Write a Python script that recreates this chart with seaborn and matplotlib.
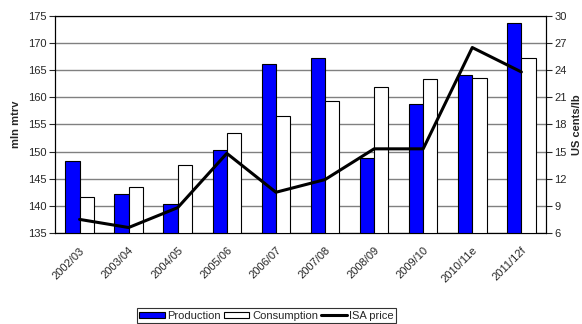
import numpy as np
import pandas as pd
import matplotlib
matplotlib.use("Agg")
import matplotlib.pyplot as plt
import matplotlib.transforms as mtransforms
import seaborn as sns
from matplotlib.patches import Patch
from matplotlib.lines import Line2D

seasons = ["2002/03", "2003/04", "2004/05", "2005/06", "2006/07",
           "2007/08", "2008/09", "2009/10", "2010/11e", "2011/12f"]
production = [148.3, 142.2, 140.3, 150.3, 166.1, 167.3, 148.9, 158.7, 164.1, 173.7]
consumption = [141.7, 143.5, 147.5, 153.5, 156.5, 159.3, 161.9, 163.3, 163.5, 167.3]
isa_price = [7.5, 6.6, 8.8, 14.8, 10.5, 11.9, 15.3, 15.3, 26.5, 23.8]

sns.set_style("white")
plt.rcParams['font.family'] = ['Liberation Sans', 'DejaVu Sans']

df = pd.DataFrame({
    "season": seasons * 2,
    "value": production + consumption,
    "series": ["Production"] * len(seasons) + ["Consumption"] * len(seasons),
})

fig = plt.figure(figsize=(5.82, 3.24), dpi=100)
ax = fig.add_axes([0.0945, 0.281, 0.8435, 0.670])

sns.barplot(data=df, x="season", y="value", hue="series", ax=ax,
            palette={"Production": "#0000FF", "Consumption": "#FFFFFF"},
            saturation=1, edgecolor="black", linewidth=0.8, width=0.58, gap=0,
            legend=False, zorder=3)
ax.set_ylim(135, 175)
ax.set_yticks(np.arange(135, 176, 5))
ax.set_xlim(-0.5, len(seasons) - 0.5)
ax.yaxis.grid(True, color="#808080", linewidth=1.0, zorder=0)
ax.set_axisbelow(True)
ax.set_xlabel("")
ax.set_ylabel("mln mtrv", fontsize=8, fontweight="bold", labelpad=5)
ax.set_xticks(np.arange(len(seasons)))
ax.set_xticklabels(seasons, rotation=45, ha="right", rotation_mode="anchor", fontsize=8)
offset = mtransforms.ScaledTranslation(-4 / 100, 0, fig.dpi_scale_trans)
for lbl in ax.get_xticklabels():
    lbl.set_transform(lbl.get_transform() + offset)
ax.set_xticks(np.arange(len(seasons) + 1) - 0.5, minor=True)
ax.tick_params(axis="x", which="major", length=0, pad=9)
ax.tick_params(axis="x", which="minor", length=4, width=0.8, color="black", direction="out")
ax.tick_params(axis="y", labelsize=8, length=4, width=0.8, direction="out", pad=2, left=True)
for s in ax.spines.values():
    s.set_color("black")
    s.set_linewidth(0.8)

ax2 = ax.twinx()
sns.lineplot(x=np.arange(len(seasons)), y=isa_price, ax=ax2, color="black",
             linewidth=2.2, zorder=5)
ax2.set_ylim(6, 30)
ax2.set_yticks(np.arange(6, 31, 3))
ax2.set_ylabel("US cents/lb", fontsize=8, fontweight="bold", labelpad=4)
ax2.tick_params(axis="y", labelsize=8, length=4, width=0.8, direction="out", pad=2, right=True)
for s in ax2.spines.values():
    s.set_color("black")
    s.set_linewidth(0.8)

handles = [Patch(facecolor="#0000FF", edgecolor="black", linewidth=0.8),
           Patch(facecolor="white", edgecolor="black", linewidth=0.8),
           Line2D([0], [0], color="black", linewidth=2.2)]
leg = fig.legend(handles, ["Production", "Consumption", "ISA price"], ncol=3,
                 loc="lower center", bbox_to_anchor=(0.458, 0.0), fontsize=8,
                 frameon=True, fancybox=False, edgecolor="black",
                 handlelength=2.3, handleheight=0.45, handletextpad=0.25,
                 columnspacing=0.25, borderpad=0.2, borderaxespad=0.1)
leg.get_frame().set_linewidth(0.8)

fig.savefig("out.png", dpi=100)
